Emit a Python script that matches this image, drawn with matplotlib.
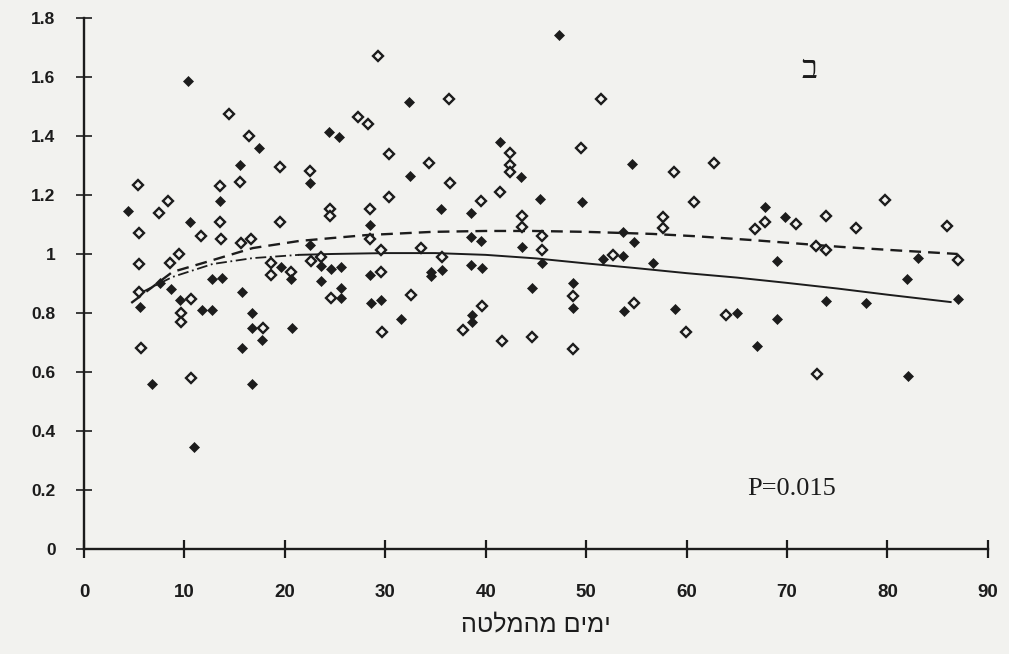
import numpy as np
import matplotlib
matplotlib.use("Agg")
import matplotlib.pyplot as plt

# filled diamonds (days, ratio)
filled_x = [4.4, 5.6, 6.8, 7.6, 8.7, 9.6, 10.4, 10.6, 10.9, 11.7, 12.7, 12.7, 13.5, 13.7,
            15.5, 15.7, 15.7, 16.7, 16.7, 16.7, 17.4, 17.7, 19.6, 20.6, 20.7, 22.5, 22.5,
            23.6, 23.6, 24.4, 24.6, 25.4, 25.6, 25.6, 25.6, 28.5, 28.5, 28.6, 29.6, 31.6,
            32.4, 32.5, 34.6, 34.6, 35.5, 35.6, 38.5, 38.5, 38.5, 38.6, 38.6, 39.5, 39.6,
            41.4, 43.5, 43.6, 44.6, 45.4, 45.6, 47.3, 48.7, 48.7, 49.6, 51.7, 53.7, 53.7,
            53.8, 54.6, 54.8, 56.7, 58.8, 65.0, 67.0, 67.8, 69.0, 69.0, 69.8, 73.9, 77.9,
            82.0, 82.1, 83.0, 87.0]
filled_y = [1.146, 0.82, 0.56, 0.90, 0.88, 0.844, 1.586, 1.11, 0.346, 0.81, 0.81, 0.915, 1.18, 0.92,
            1.30, 0.87, 0.68, 0.80, 0.75, 0.56, 1.36, 0.71, 0.956, 0.915, 0.75, 1.24, 1.03,
            0.96, 0.908, 1.413, 0.95, 1.397, 0.957, 0.885, 0.85, 1.098, 0.93, 0.835, 0.843, 0.78,
            1.515, 1.265, 0.94, 0.925, 1.152, 0.945, 1.139, 1.057, 0.962, 0.793, 0.77, 1.045, 0.952,
            1.38, 1.26, 1.024, 0.885, 1.186, 0.97, 1.742, 0.902, 0.817, 1.175, 0.983, 1.074, 0.993,
            0.807, 1.305, 1.04, 0.97, 0.813, 0.80, 0.688, 1.159, 0.976, 0.78, 1.125, 0.841, 0.834,
            0.915, 0.586, 0.986, 0.847]

# open diamonds
open_x = [5.4, 5.5, 5.5, 5.5, 5.7, 7.5, 8.4, 8.6, 9.5, 9.7, 9.7, 10.7, 10.7, 11.6, 13.5, 13.5,
          13.6, 14.4, 15.5, 15.6, 16.4, 16.6, 17.8, 18.6, 18.6, 19.5, 19.5, 20.6, 22.5, 22.6,
          23.6, 24.5, 24.5, 24.6, 27.3, 28.3, 28.5, 28.5, 29.3, 29.6, 29.6, 29.7, 30.4, 30.4,
          32.6, 33.6, 34.4, 35.6, 36.3, 36.4, 37.7, 39.5, 39.6, 41.4, 41.6, 42.4, 42.4, 42.4,
          43.6, 43.6, 44.6, 45.6, 45.6, 48.7, 48.7, 49.5, 51.5, 52.7, 54.8, 57.7, 57.7, 58.7,
          59.9, 60.7, 62.7, 63.9, 66.8, 67.8, 70.9, 72.9, 73.0, 73.9, 73.9, 76.9, 79.8, 85.9, 87.0]
open_y = [1.234, 1.07, 0.966, 0.87, 0.68, 1.14, 1.18, 0.97, 1.0, 0.80, 0.77, 0.846, 0.58, 1.06, 1.23, 1.11,
          1.05, 1.475, 1.245, 1.037, 1.40, 1.05, 0.75, 0.97, 0.93, 1.295, 1.11, 0.94, 1.28, 0.976,
          0.99, 1.153, 1.13, 0.85, 1.465, 1.44, 1.152, 1.05, 1.671, 1.015, 0.94, 0.736, 1.339, 1.194,
          0.86, 1.02, 1.308, 0.99, 1.525, 1.24, 0.742, 1.18, 0.824, 1.21, 0.705, 1.343, 1.30, 1.278,
          1.13, 1.09, 0.72, 1.06, 1.015, 0.858, 0.678, 1.359, 1.525, 0.997, 0.834, 1.127, 1.087, 1.278,
          0.736, 1.175, 1.31, 0.793, 1.085, 1.108, 1.10, 1.027, 0.593, 1.128, 1.014, 1.088, 1.183, 1.095, 0.98]

# trend curves
dashed_x = [4.7, 8.8, 12.2, 16.8, 21.4, 24.7, 28.1, 34.7, 40.0, 44.7, 50.0, 56.6, 61.0, 66.6, 75.4, 81.0, 87.0]
dashed_y = [0.834, 0.939, 0.973, 1.02, 1.044, 1.054, 1.064, 1.075, 1.078, 1.078, 1.075, 1.068, 1.06, 1.047, 1.024, 1.012, 1.0]
solid_x = [5.8, 8.8, 12.8, 16.8, 21.4, 24.7, 30.0, 35.0, 40.0, 45.0, 50.0, 55.0, 60.0, 65.0, 70.0, 75.0, 80.0, 86.3]
solid_y = [0.871, 0.922, 0.966, 0.986, 0.997, 1.0, 1.003, 1.003, 0.997, 0.985, 0.968, 0.952, 0.935, 0.92, 0.902, 0.883, 0.862, 0.837]

xticks = [0, 10, 20, 30, 40, 50, 60, 70, 80, 90]
yticks = [0, 0.2, 0.4, 0.6, 0.8, 1.0, 1.2, 1.4, 1.6, 1.8]
ytick_labels = ['0', '0.2', '0.4', '0.6', '0.8', '1', '1.2', '1.4', '1.6', '1.8']
xlabel_text = "ימים מהמלטה"
panel_text = "ב"
p_text = "P=0.015"

bg = '#f2f2ef'
ink = '#1c1c1c'

fig = plt.figure(figsize=(10.09, 6.54), dpi=100, facecolor=bg)
ax = fig.add_axes([0.0833, 0.1606, 0.979 - 0.0833, 0.9725 - 0.1606])
ax.set_facecolor(bg)

ax.plot(open_x, open_y, linestyle='none', marker='D', markersize=5.2,
        markerfacecolor=bg, markeredgecolor=ink, markeredgewidth=1.7, zorder=3)
ax.plot(filled_x, filled_y, linestyle='none', marker='D', markersize=5.0,
        markerfacecolor=ink, markeredgecolor=ink, markeredgewidth=0.5, zorder=4)

ax.plot(dashed_x, dashed_y, color=ink, lw=1.7, dashes=(5, 3), zorder=2)
# the solid fit is drawn dash-dot at its steep start in the scan
ax.plot(solid_x[:5], solid_y[:5], color=ink, lw=1.3, dashes=(6, 2, 1, 2), zorder=2)
ax.plot(solid_x[4:], solid_y[4:], color=ink, lw=1.4, zorder=2)

ax.set_xlim(0, 90)
ax.set_ylim(0, 1.8)
for s in ['top', 'right']:
    ax.spines[s].set_visible(False)
for s in ['left', 'bottom']:
    ax.spines[s].set_color(ink)
    ax.spines[s].set_linewidth(1.7)

ax.set_xticks(xticks)
ax.set_xticklabels([str(t) for t in xticks], fontsize=13.5, fontweight='bold',
                   family=['Liberation Sans', 'DejaVu Sans'], color=ink)
ax.set_yticks(yticks)
ax.set_yticklabels(ytick_labels, fontsize=12.5, fontweight='bold',
                   family=['Liberation Sans', 'DejaVu Sans'], color=ink)
ax.tick_params(axis='x', direction='inout', length=13, width=1.6, pad=19, colors=ink)
ax.tick_params(axis='y', direction='inout', length=11, width=1.2, pad=15, colors=ink)

# matplotlib lays text out left-to-right, so Hebrew is reversed for display
ax.set_xlabel(xlabel_text[::-1], fontsize=18, family=['Liberation Sans', 'DejaVu Sans'],
              color=ink, labelpad=8)

ax.text(72.3, 1.624, panel_text, fontsize=24, ha='center', va='center',
        family=['Liberation Serif', 'DejaVu Sans'], color=ink)
ax.text(66.0, 0.183, p_text, fontsize=19, ha='left', va='baseline',
        family=['Liberation Serif', 'DejaVu Serif'], color=ink)

fig.savefig('out.png', dpi=100, facecolor=bg)
